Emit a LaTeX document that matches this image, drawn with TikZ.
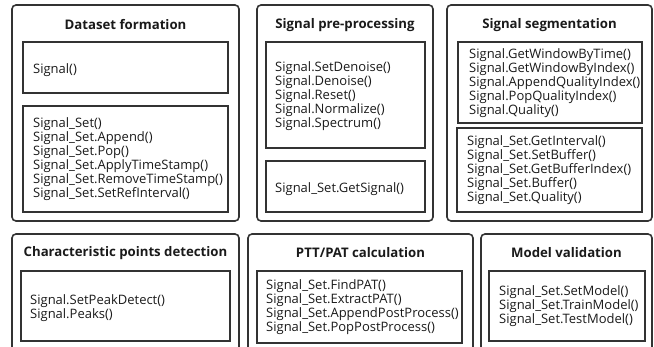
\documentclass[tikz,border=0pt]{standalone}
\usepackage{fontspec}
\setmainfont{Open Sans}
\definecolor{ln}{HTML}{333333}
\definecolor{tx}{HTML}{1A1A1A}
\tikzset{
  outerbox/.style={draw=ln, line width=1.6pt, rounded corners=4pt, inner sep=0pt},
  innerbox/.style={draw=ln, line width=1.3pt, inner sep=0pt},
  ttl/.style={font=\fontsize{13.2}{15}\selectfont\bfseries, text=tx, inner sep=0pt},
  txt/.style={font=\fontsize{13}{14}\selectfont, text=tx, align=left, anchor=west, inner sep=0pt},
}
\begin{document}
\begin{tikzpicture}[x=1pt,y=-1pt]
\useasboundingbox (0,0) rectangle (654,347);
\clip (0,0) rectangle (654,347);
% outer boxes
\node[outerbox, minimum width=227pt, minimum height=216pt] (A) at (125.5,113) {};
\node[outerbox, minimum width=176pt, minimum height=216pt] (B) at (345,113) {};
\node[outerbox, minimum width=205pt, minimum height=216pt] (C) at (549.5,113) {};
\node[outerbox, minimum width=227pt, minimum height=150pt] (D) at (125.5,309) {};
\node[outerbox, minimum width=225pt, minimum height=150pt] (E) at (360.5,309) {};
\node[outerbox, minimum width=171pt, minimum height=150pt] (F) at (566.5,309) {};
% titles
\node[ttl] (At) at (125.5,25) {Dataset formation};
\node[ttl] (Bt) at (345,25) {Signal pre-processing};
\node[ttl] (Ct) at (549.5,25) {Signal segmentation};
\node[ttl] (Dt) at (125.5,253) {Characteristic points detection};
\node[ttl] (Et) at (360.5,253) {PTT/PAT calculation};
\node[ttl] (Ft) at (566.5,253) {Model validation};
% inner boxes
\node[innerbox, minimum width=205pt, minimum height=51pt] (A1) at (125.5,67.5) {};
\node[innerbox, minimum width=205pt, minimum height=106pt] (A2) at (125.5,159) {};
\node[innerbox, minimum width=159pt, minimum height=106pt] (B1) at (345.5,95) {};
\node[innerbox, minimum width=159pt, minimum height=51pt] (B2) at (345.5,186.5) {};
\node[innerbox, minimum width=184pt, minimum height=81pt] (C1) at (550,82.5) {};
\node[innerbox, minimum width=185pt, minimum height=84pt] (C2) at (549.5,170) {};
\node[innerbox, minimum width=209pt, minimum height=70pt] (D1) at (125.5,306) {};
\node[innerbox, minimum width=205pt, minimum height=72pt] (E1) at (359.5,307) {};
\node[innerbox, minimum width=156pt, minimum height=70pt] (F1) at (567,306) {};
% texts
\node[txt] (A1x) at (33,70) {Signal()};
\node[txt] (A2x) at (33,159) {Signal\_Set()\\Signal\_Set.Append()\\Signal\_Set.Pop()\\Signal\_Set.ApplyTimeStamp()\\Signal\_Set.RemoveTimeStamp()\\Signal\_Set.SetRefInterval()};
\node[txt] (B1x) at (275,96) {Signal.SetDenoise()\\Signal.Denoise()\\Signal.Reset()\\Signal.Normalize()\\Signal.Spectrum()};
\node[txt] (B2x) at (275,189) {Signal\_Set.GetSignal()};
\node[txt] (C1x) at (469,83) {Signal.GetWindowByTime()\\Signal.GetWindowByIndex()\\Signal.AppendQualityIndex()\\Signal.PopQualityIndex()\\Signal.Quality()};
\node[txt] (C2x) at (467,170) {Signal\_Set.GetInterval()\\Signal\_Set.SetBuffer()\\Signal\_Set.GetBufferIndex()\\Signal\_Set.Buffer()\\Signal\_Set.Quality()};
\node[txt] (D1x) at (30,308) {Signal.SetPeakDetect()\\Signal.Peaks()};
\node[txt] (E1x) at (266,307) {Signal\_Set.FindPAT()\\Signal\_Set.ExtractPAT()\\Signal\_Set.AppendPostProcess()\\Signal\_Set.PopPostProcess()};
\node[txt] (F1x) at (499,306) {Signal\_Set.SetModel()\\Signal\_Set.TrainModel()\\Signal\_Set.TestModel()};
\end{tikzpicture}
\end{document}
